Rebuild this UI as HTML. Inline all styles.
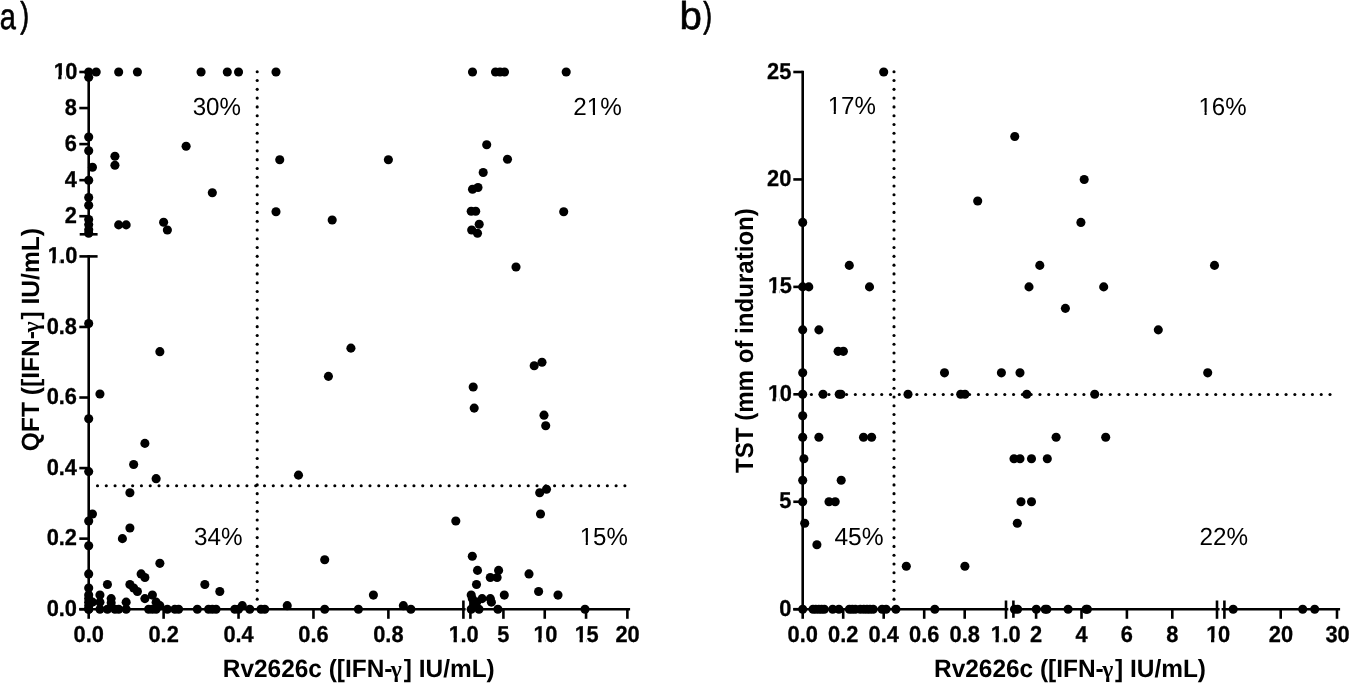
<!DOCTYPE html>
<html><head><meta charset="utf-8"><title>Figure</title>
<style>html,body{margin:0;padding:0;background:#fff;overflow:hidden}svg{display:block;text-rendering:geometricPrecision;font-kerning:none;will-change:transform}</style></head>
<body>
<svg width="1349" height="683" viewBox="0 0 1349 683">
<rect width="1349" height="683" fill="#fff"/>
<g stroke="#000" stroke-width="2.6" fill="none" stroke-linecap="butt">
<path d="M88.7 70.7V235.8"/>
<path d="M79.7 234.3H97.6"/>
<path d="M79.4 256.4H97.6"/>
<path d="M88.7 254.9V609.2"/>
<path d="M79.3 72.00H88.7"/>
<path d="M79.3 108.05H88.7"/>
<path d="M79.3 144.10H88.7"/>
<path d="M79.3 180.15H88.7"/>
<path d="M79.3 216.20H88.7"/>
<path d="M79.3 326.96H88.7"/>
<path d="M79.3 397.52H88.7"/>
<path d="M79.3 468.08H88.7"/>
<path d="M79.3 538.64H88.7"/>
<path d="M79.3 609.20H88.7"/>
<path d="M79.3 609.2H465.6"/>
<path d="M88.70 609.2V618.8"/>
<path d="M163.62 609.2V618.8"/>
<path d="M238.54 609.2V618.8"/>
<path d="M313.46 609.2V618.8"/>
<path d="M388.38 609.2V618.8"/>
<path d="M463.4 600.5V618.8"/>
<path d="M470.4 600.5V618.8"/>
<path d="M468.9 609.2H630.1"/>
<path d="M503.41 609.2V618.8"/>
<path d="M544.74 609.2V618.8"/>
<path d="M586.06 609.2V618.8"/>
<path d="M627.38 609.2V618.8"/>
<path d="M802.7 70.7V609.2"/>
<path d="M793.3 72.00H802.7"/>
<path d="M793.3 179.44H802.7"/>
<path d="M793.3 286.88H802.7"/>
<path d="M793.3 394.32H802.7"/>
<path d="M793.3 501.76H802.7"/>
<path d="M793.3 609.20H802.7"/>
<path d="M793.3 609.2H1008.3"/>
<path d="M802.70 609.2V618.8"/>
<path d="M843.20 609.2V618.8"/>
<path d="M883.70 609.2V618.8"/>
<path d="M924.20 609.2V618.8"/>
<path d="M964.70 609.2V618.8"/>
<path d="M1006 600.5V618.8"/>
<path d="M1013.4 600.5V617.8"/>
<path d="M1011.9 609.2H1219.6"/>
<path d="M1036.10 609.2V618.8"/>
<path d="M1081.50 609.2V618.8"/>
<path d="M1126.90 609.2V618.8"/>
<path d="M1172.30 609.2V618.8"/>
<path d="M1217.0 600.5V618.8"/>
<path d="M1224.4 600.5V618.8"/>
<path d="M1221.6 609.2H1340.1"/>
<path d="M1280.70 609.2V618.8"/>
<path d="M1337.00 609.2V618.8"/>
</g>
<g fill="#000">
<circle cx="257.2" cy="71.75" r="1.55"/>
<circle cx="257.2" cy="80.54" r="1.55"/>
<circle cx="257.2" cy="89.33" r="1.55"/>
<circle cx="257.2" cy="98.12" r="1.55"/>
<circle cx="257.2" cy="106.91" r="1.55"/>
<circle cx="257.2" cy="115.70" r="1.55"/>
<circle cx="257.2" cy="124.49" r="1.55"/>
<circle cx="257.2" cy="133.28" r="1.55"/>
<circle cx="257.2" cy="142.07" r="1.55"/>
<circle cx="257.2" cy="150.86" r="1.55"/>
<circle cx="257.2" cy="159.65" r="1.55"/>
<circle cx="257.2" cy="168.44" r="1.55"/>
<circle cx="257.2" cy="177.23" r="1.55"/>
<circle cx="257.2" cy="186.02" r="1.55"/>
<circle cx="257.2" cy="194.81" r="1.55"/>
<circle cx="257.2" cy="203.60" r="1.55"/>
<circle cx="257.2" cy="212.39" r="1.55"/>
<circle cx="257.2" cy="221.18" r="1.55"/>
<circle cx="257.2" cy="229.97" r="1.55"/>
<circle cx="257.2" cy="238.76" r="1.55"/>
<circle cx="257.2" cy="247.55" r="1.55"/>
<circle cx="257.2" cy="256.34" r="1.55"/>
<circle cx="257.2" cy="265.13" r="1.55"/>
<circle cx="257.2" cy="273.92" r="1.55"/>
<circle cx="257.2" cy="282.71" r="1.55"/>
<circle cx="257.2" cy="291.50" r="1.55"/>
<circle cx="257.2" cy="300.29" r="1.55"/>
<circle cx="257.2" cy="309.08" r="1.55"/>
<circle cx="257.2" cy="317.87" r="1.55"/>
<circle cx="257.2" cy="326.66" r="1.55"/>
<circle cx="257.2" cy="335.45" r="1.55"/>
<circle cx="257.2" cy="344.24" r="1.55"/>
<circle cx="257.2" cy="353.03" r="1.55"/>
<circle cx="257.2" cy="361.82" r="1.55"/>
<circle cx="257.2" cy="370.61" r="1.55"/>
<circle cx="257.2" cy="379.40" r="1.55"/>
<circle cx="257.2" cy="388.19" r="1.55"/>
<circle cx="257.2" cy="396.98" r="1.55"/>
<circle cx="257.2" cy="405.77" r="1.55"/>
<circle cx="257.2" cy="414.56" r="1.55"/>
<circle cx="257.2" cy="423.35" r="1.55"/>
<circle cx="257.2" cy="432.14" r="1.55"/>
<circle cx="257.2" cy="440.93" r="1.55"/>
<circle cx="257.2" cy="449.72" r="1.55"/>
<circle cx="257.2" cy="458.51" r="1.55"/>
<circle cx="257.2" cy="467.30" r="1.55"/>
<circle cx="257.2" cy="476.09" r="1.55"/>
<circle cx="257.2" cy="484.88" r="1.55"/>
<circle cx="257.2" cy="493.67" r="1.55"/>
<circle cx="257.2" cy="502.46" r="1.55"/>
<circle cx="257.2" cy="511.25" r="1.55"/>
<circle cx="257.2" cy="520.04" r="1.55"/>
<circle cx="257.2" cy="528.83" r="1.55"/>
<circle cx="257.2" cy="537.62" r="1.55"/>
<circle cx="257.2" cy="546.41" r="1.55"/>
<circle cx="257.2" cy="555.20" r="1.55"/>
<circle cx="257.2" cy="563.99" r="1.55"/>
<circle cx="257.2" cy="572.78" r="1.55"/>
<circle cx="257.2" cy="581.57" r="1.55"/>
<circle cx="257.2" cy="590.36" r="1.55"/>
<circle cx="257.2" cy="599.15" r="1.55"/>
<circle cx="97.50" cy="485.8" r="1.55"/>
<circle cx="106.29" cy="485.8" r="1.55"/>
<circle cx="115.08" cy="485.8" r="1.55"/>
<circle cx="123.87" cy="485.8" r="1.55"/>
<circle cx="132.66" cy="485.8" r="1.55"/>
<circle cx="141.45" cy="485.8" r="1.55"/>
<circle cx="150.24" cy="485.8" r="1.55"/>
<circle cx="159.03" cy="485.8" r="1.55"/>
<circle cx="167.82" cy="485.8" r="1.55"/>
<circle cx="176.61" cy="485.8" r="1.55"/>
<circle cx="185.40" cy="485.8" r="1.55"/>
<circle cx="194.19" cy="485.8" r="1.55"/>
<circle cx="202.98" cy="485.8" r="1.55"/>
<circle cx="211.77" cy="485.8" r="1.55"/>
<circle cx="220.56" cy="485.8" r="1.55"/>
<circle cx="229.35" cy="485.8" r="1.55"/>
<circle cx="238.14" cy="485.8" r="1.55"/>
<circle cx="246.93" cy="485.8" r="1.55"/>
<circle cx="255.72" cy="485.8" r="1.55"/>
<circle cx="264.51" cy="485.8" r="1.55"/>
<circle cx="273.30" cy="485.8" r="1.55"/>
<circle cx="282.09" cy="485.8" r="1.55"/>
<circle cx="290.88" cy="485.8" r="1.55"/>
<circle cx="299.67" cy="485.8" r="1.55"/>
<circle cx="308.46" cy="485.8" r="1.55"/>
<circle cx="317.25" cy="485.8" r="1.55"/>
<circle cx="326.04" cy="485.8" r="1.55"/>
<circle cx="334.83" cy="485.8" r="1.55"/>
<circle cx="343.62" cy="485.8" r="1.55"/>
<circle cx="352.41" cy="485.8" r="1.55"/>
<circle cx="361.20" cy="485.8" r="1.55"/>
<circle cx="369.99" cy="485.8" r="1.55"/>
<circle cx="378.78" cy="485.8" r="1.55"/>
<circle cx="387.57" cy="485.8" r="1.55"/>
<circle cx="396.36" cy="485.8" r="1.55"/>
<circle cx="405.15" cy="485.8" r="1.55"/>
<circle cx="413.94" cy="485.8" r="1.55"/>
<circle cx="422.73" cy="485.8" r="1.55"/>
<circle cx="431.52" cy="485.8" r="1.55"/>
<circle cx="440.31" cy="485.8" r="1.55"/>
<circle cx="449.10" cy="485.8" r="1.55"/>
<circle cx="457.89" cy="485.8" r="1.55"/>
<circle cx="466.68" cy="485.8" r="1.55"/>
<circle cx="475.47" cy="485.8" r="1.55"/>
<circle cx="484.26" cy="485.8" r="1.55"/>
<circle cx="493.05" cy="485.8" r="1.55"/>
<circle cx="501.84" cy="485.8" r="1.55"/>
<circle cx="510.63" cy="485.8" r="1.55"/>
<circle cx="519.42" cy="485.8" r="1.55"/>
<circle cx="528.21" cy="485.8" r="1.55"/>
<circle cx="537.00" cy="485.8" r="1.55"/>
<circle cx="545.79" cy="485.8" r="1.55"/>
<circle cx="554.58" cy="485.8" r="1.55"/>
<circle cx="563.37" cy="485.8" r="1.55"/>
<circle cx="572.16" cy="485.8" r="1.55"/>
<circle cx="580.95" cy="485.8" r="1.55"/>
<circle cx="589.74" cy="485.8" r="1.55"/>
<circle cx="598.53" cy="485.8" r="1.55"/>
<circle cx="607.32" cy="485.8" r="1.55"/>
<circle cx="616.11" cy="485.8" r="1.55"/>
<circle cx="624.90" cy="485.8" r="1.55"/>
<circle cx="894.0" cy="71.75" r="1.55"/>
<circle cx="894.0" cy="80.54" r="1.55"/>
<circle cx="894.0" cy="89.33" r="1.55"/>
<circle cx="894.0" cy="98.12" r="1.55"/>
<circle cx="894.0" cy="106.91" r="1.55"/>
<circle cx="894.0" cy="115.70" r="1.55"/>
<circle cx="894.0" cy="124.49" r="1.55"/>
<circle cx="894.0" cy="133.28" r="1.55"/>
<circle cx="894.0" cy="142.07" r="1.55"/>
<circle cx="894.0" cy="150.86" r="1.55"/>
<circle cx="894.0" cy="159.65" r="1.55"/>
<circle cx="894.0" cy="168.44" r="1.55"/>
<circle cx="894.0" cy="177.23" r="1.55"/>
<circle cx="894.0" cy="186.02" r="1.55"/>
<circle cx="894.0" cy="194.81" r="1.55"/>
<circle cx="894.0" cy="203.60" r="1.55"/>
<circle cx="894.0" cy="212.39" r="1.55"/>
<circle cx="894.0" cy="221.18" r="1.55"/>
<circle cx="894.0" cy="229.97" r="1.55"/>
<circle cx="894.0" cy="238.76" r="1.55"/>
<circle cx="894.0" cy="247.55" r="1.55"/>
<circle cx="894.0" cy="256.34" r="1.55"/>
<circle cx="894.0" cy="265.13" r="1.55"/>
<circle cx="894.0" cy="273.92" r="1.55"/>
<circle cx="894.0" cy="282.71" r="1.55"/>
<circle cx="894.0" cy="291.50" r="1.55"/>
<circle cx="894.0" cy="300.29" r="1.55"/>
<circle cx="894.0" cy="309.08" r="1.55"/>
<circle cx="894.0" cy="317.87" r="1.55"/>
<circle cx="894.0" cy="326.66" r="1.55"/>
<circle cx="894.0" cy="335.45" r="1.55"/>
<circle cx="894.0" cy="344.24" r="1.55"/>
<circle cx="894.0" cy="353.03" r="1.55"/>
<circle cx="894.0" cy="361.82" r="1.55"/>
<circle cx="894.0" cy="370.61" r="1.55"/>
<circle cx="894.0" cy="379.40" r="1.55"/>
<circle cx="894.0" cy="388.19" r="1.55"/>
<circle cx="894.0" cy="396.98" r="1.55"/>
<circle cx="894.0" cy="405.77" r="1.55"/>
<circle cx="894.0" cy="414.56" r="1.55"/>
<circle cx="894.0" cy="423.35" r="1.55"/>
<circle cx="894.0" cy="432.14" r="1.55"/>
<circle cx="894.0" cy="440.93" r="1.55"/>
<circle cx="894.0" cy="449.72" r="1.55"/>
<circle cx="894.0" cy="458.51" r="1.55"/>
<circle cx="894.0" cy="467.30" r="1.55"/>
<circle cx="894.0" cy="476.09" r="1.55"/>
<circle cx="894.0" cy="484.88" r="1.55"/>
<circle cx="894.0" cy="493.67" r="1.55"/>
<circle cx="894.0" cy="502.46" r="1.55"/>
<circle cx="894.0" cy="511.25" r="1.55"/>
<circle cx="894.0" cy="520.04" r="1.55"/>
<circle cx="894.0" cy="528.83" r="1.55"/>
<circle cx="894.0" cy="537.62" r="1.55"/>
<circle cx="894.0" cy="546.41" r="1.55"/>
<circle cx="894.0" cy="555.20" r="1.55"/>
<circle cx="894.0" cy="563.99" r="1.55"/>
<circle cx="894.0" cy="572.78" r="1.55"/>
<circle cx="894.0" cy="581.57" r="1.55"/>
<circle cx="894.0" cy="590.36" r="1.55"/>
<circle cx="894.0" cy="599.15" r="1.55"/>
<circle cx="811.40" cy="394.5" r="1.55"/>
<circle cx="820.19" cy="394.5" r="1.55"/>
<circle cx="828.98" cy="394.5" r="1.55"/>
<circle cx="837.77" cy="394.5" r="1.55"/>
<circle cx="846.56" cy="394.5" r="1.55"/>
<circle cx="855.35" cy="394.5" r="1.55"/>
<circle cx="864.14" cy="394.5" r="1.55"/>
<circle cx="872.93" cy="394.5" r="1.55"/>
<circle cx="881.72" cy="394.5" r="1.55"/>
<circle cx="890.51" cy="394.5" r="1.55"/>
<circle cx="899.30" cy="394.5" r="1.55"/>
<circle cx="908.09" cy="394.5" r="1.55"/>
<circle cx="916.88" cy="394.5" r="1.55"/>
<circle cx="925.67" cy="394.5" r="1.55"/>
<circle cx="934.46" cy="394.5" r="1.55"/>
<circle cx="943.25" cy="394.5" r="1.55"/>
<circle cx="952.04" cy="394.5" r="1.55"/>
<circle cx="960.83" cy="394.5" r="1.55"/>
<circle cx="969.62" cy="394.5" r="1.55"/>
<circle cx="978.41" cy="394.5" r="1.55"/>
<circle cx="987.20" cy="394.5" r="1.55"/>
<circle cx="995.99" cy="394.5" r="1.55"/>
<circle cx="1004.78" cy="394.5" r="1.55"/>
<circle cx="1013.57" cy="394.5" r="1.55"/>
<circle cx="1022.36" cy="394.5" r="1.55"/>
<circle cx="1031.15" cy="394.5" r="1.55"/>
<circle cx="1039.94" cy="394.5" r="1.55"/>
<circle cx="1048.73" cy="394.5" r="1.55"/>
<circle cx="1057.52" cy="394.5" r="1.55"/>
<circle cx="1066.31" cy="394.5" r="1.55"/>
<circle cx="1075.10" cy="394.5" r="1.55"/>
<circle cx="1083.89" cy="394.5" r="1.55"/>
<circle cx="1092.68" cy="394.5" r="1.55"/>
<circle cx="1101.47" cy="394.5" r="1.55"/>
<circle cx="1110.26" cy="394.5" r="1.55"/>
<circle cx="1119.05" cy="394.5" r="1.55"/>
<circle cx="1127.84" cy="394.5" r="1.55"/>
<circle cx="1136.63" cy="394.5" r="1.55"/>
<circle cx="1145.42" cy="394.5" r="1.55"/>
<circle cx="1154.21" cy="394.5" r="1.55"/>
<circle cx="1163.00" cy="394.5" r="1.55"/>
<circle cx="1171.79" cy="394.5" r="1.55"/>
<circle cx="1180.58" cy="394.5" r="1.55"/>
<circle cx="1189.37" cy="394.5" r="1.55"/>
<circle cx="1198.16" cy="394.5" r="1.55"/>
<circle cx="1206.95" cy="394.5" r="1.55"/>
<circle cx="1215.74" cy="394.5" r="1.55"/>
<circle cx="1224.53" cy="394.5" r="1.55"/>
<circle cx="1233.32" cy="394.5" r="1.55"/>
<circle cx="1242.11" cy="394.5" r="1.55"/>
<circle cx="1250.90" cy="394.5" r="1.55"/>
<circle cx="1259.69" cy="394.5" r="1.55"/>
<circle cx="1268.48" cy="394.5" r="1.55"/>
<circle cx="1277.27" cy="394.5" r="1.55"/>
<circle cx="1286.06" cy="394.5" r="1.55"/>
<circle cx="1294.85" cy="394.5" r="1.55"/>
<circle cx="1303.64" cy="394.5" r="1.55"/>
<circle cx="1312.43" cy="394.5" r="1.55"/>
<circle cx="1321.22" cy="394.5" r="1.55"/>
<circle cx="1330.01" cy="394.5" r="1.55"/>
</g>
<g fill="#000">
<circle cx="88.70" cy="545.70" r="4.55"/>
<circle cx="88.70" cy="573.92" r="4.55"/>
<circle cx="88.70" cy="588.03" r="4.55"/>
<circle cx="88.70" cy="595.09" r="4.55"/>
<circle cx="88.70" cy="598.62" r="4.55"/>
<circle cx="88.70" cy="602.14" r="4.55"/>
<circle cx="88.70" cy="605.67" r="4.55"/>
<circle cx="88.70" cy="609.20" r="4.55"/>
<circle cx="92.45" cy="602.14" r="4.55"/>
<circle cx="107.43" cy="584.50" r="4.55"/>
<circle cx="99.94" cy="595.09" r="4.55"/>
<circle cx="99.94" cy="602.14" r="4.55"/>
<circle cx="111.18" cy="598.62" r="4.55"/>
<circle cx="111.18" cy="602.85" r="4.55"/>
<circle cx="126.16" cy="602.14" r="4.55"/>
<circle cx="129.91" cy="584.50" r="4.55"/>
<circle cx="133.65" cy="588.03" r="4.55"/>
<circle cx="137.40" cy="591.56" r="4.55"/>
<circle cx="141.14" cy="573.92" r="4.55"/>
<circle cx="144.89" cy="577.45" r="4.55"/>
<circle cx="159.87" cy="563.34" r="4.55"/>
<circle cx="144.89" cy="598.62" r="4.55"/>
<circle cx="152.38" cy="595.09" r="4.55"/>
<circle cx="156.13" cy="602.14" r="4.55"/>
<circle cx="159.87" cy="605.67" r="4.55"/>
<circle cx="204.83" cy="584.50" r="4.55"/>
<circle cx="122.41" cy="538.64" r="4.55"/>
<circle cx="129.91" cy="528.06" r="4.55"/>
<circle cx="219.81" cy="591.56" r="4.55"/>
<circle cx="242.29" cy="605.67" r="4.55"/>
<circle cx="287.24" cy="605.67" r="4.55"/>
<circle cx="324.70" cy="559.81" r="4.55"/>
<circle cx="92.45" cy="513.94" r="4.55"/>
<circle cx="88.70" cy="521.00" r="4.55"/>
<circle cx="358.41" cy="609.20" r="4.55"/>
<circle cx="410.86" cy="609.20" r="4.55"/>
<circle cx="373.40" cy="595.09" r="4.55"/>
<circle cx="403.36" cy="605.67" r="4.55"/>
<circle cx="455.81" cy="521.00" r="4.55"/>
<circle cx="159.87" cy="351.66" r="4.55"/>
<circle cx="328.44" cy="376.35" r="4.55"/>
<circle cx="99.94" cy="393.99" r="4.55"/>
<circle cx="88.70" cy="418.69" r="4.55"/>
<circle cx="144.89" cy="443.38" r="4.55"/>
<circle cx="133.65" cy="464.55" r="4.55"/>
<circle cx="88.70" cy="471.61" r="4.55"/>
<circle cx="156.13" cy="478.66" r="4.55"/>
<circle cx="298.48" cy="475.14" r="4.55"/>
<circle cx="129.91" cy="492.78" r="4.55"/>
<circle cx="88.70" cy="323.43" r="4.55"/>
<circle cx="350.92" cy="348.13" r="4.55"/>
<circle cx="88.70" cy="609.20" r="4.55"/>
<circle cx="99.94" cy="609.20" r="4.55"/>
<circle cx="107.43" cy="609.20" r="4.55"/>
<circle cx="114.92" cy="609.20" r="4.55"/>
<circle cx="118.67" cy="609.20" r="4.55"/>
<circle cx="126.16" cy="609.20" r="4.55"/>
<circle cx="148.64" cy="609.20" r="4.55"/>
<circle cx="152.38" cy="609.20" r="4.55"/>
<circle cx="156.13" cy="609.20" r="4.55"/>
<circle cx="167.37" cy="609.20" r="4.55"/>
<circle cx="174.86" cy="609.20" r="4.55"/>
<circle cx="178.60" cy="609.20" r="4.55"/>
<circle cx="197.33" cy="609.20" r="4.55"/>
<circle cx="208.57" cy="609.20" r="4.55"/>
<circle cx="212.32" cy="609.20" r="4.55"/>
<circle cx="216.06" cy="609.20" r="4.55"/>
<circle cx="234.79" cy="609.20" r="4.55"/>
<circle cx="238.54" cy="609.20" r="4.55"/>
<circle cx="249.78" cy="609.20" r="4.55"/>
<circle cx="261.02" cy="609.20" r="4.55"/>
<circle cx="264.76" cy="609.20" r="4.55"/>
<circle cx="324.70" cy="609.20" r="4.55"/>
<circle cx="472.30" cy="556.28" r="4.55"/>
<circle cx="477.50" cy="570.39" r="4.55"/>
<circle cx="498.60" cy="570.39" r="4.55"/>
<circle cx="490.30" cy="577.45" r="4.55"/>
<circle cx="497.10" cy="577.45" r="4.55"/>
<circle cx="529.00" cy="573.92" r="4.55"/>
<circle cx="476.50" cy="584.50" r="4.55"/>
<circle cx="471.20" cy="595.09" r="4.55"/>
<circle cx="504.30" cy="595.09" r="4.55"/>
<circle cx="538.60" cy="591.56" r="4.55"/>
<circle cx="558.00" cy="595.09" r="4.55"/>
<circle cx="482.10" cy="598.62" r="4.55"/>
<circle cx="490.30" cy="598.62" r="4.55"/>
<circle cx="491.40" cy="602.14" r="4.55"/>
<circle cx="472.30" cy="598.62" r="4.55"/>
<circle cx="476.70" cy="602.14" r="4.55"/>
<circle cx="474.50" cy="605.67" r="4.55"/>
<circle cx="471.20" cy="609.20" r="4.55"/>
<circle cx="479.00" cy="609.20" r="4.55"/>
<circle cx="497.90" cy="609.20" r="4.55"/>
<circle cx="585.00" cy="609.20" r="4.55"/>
<circle cx="473.20" cy="386.94" r="4.55"/>
<circle cx="474.20" cy="408.10" r="4.55"/>
<circle cx="534.20" cy="365.77" r="4.55"/>
<circle cx="542.00" cy="362.24" r="4.55"/>
<circle cx="544.00" cy="415.16" r="4.55"/>
<circle cx="545.70" cy="425.74" r="4.55"/>
<circle cx="546.50" cy="489.25" r="4.55"/>
<circle cx="539.70" cy="492.78" r="4.55"/>
<circle cx="540.50" cy="513.94" r="4.55"/>
<circle cx="516.00" cy="266.98" r="4.55"/>
<circle cx="88.70" cy="72.00" r="4.55"/>
<circle cx="96.19" cy="72.00" r="4.55"/>
<circle cx="118.67" cy="72.00" r="4.55"/>
<circle cx="137.40" cy="72.00" r="4.55"/>
<circle cx="201.08" cy="72.00" r="4.55"/>
<circle cx="227.30" cy="72.00" r="4.55"/>
<circle cx="238.54" cy="72.00" r="4.55"/>
<circle cx="276.00" cy="72.00" r="4.55"/>
<circle cx="472.50" cy="72.00" r="4.55"/>
<circle cx="495.50" cy="72.00" r="4.55"/>
<circle cx="500.00" cy="72.00" r="4.55"/>
<circle cx="504.50" cy="72.00" r="4.55"/>
<circle cx="566.20" cy="72.00" r="4.55"/>
<circle cx="88.70" cy="77.35" r="4.55"/>
<circle cx="88.70" cy="137.00" r="4.55"/>
<circle cx="88.70" cy="150.80" r="4.55"/>
<circle cx="114.92" cy="156.20" r="4.55"/>
<circle cx="114.92" cy="165.20" r="4.55"/>
<circle cx="92.45" cy="167.20" r="4.55"/>
<circle cx="186.10" cy="146.20" r="4.55"/>
<circle cx="279.75" cy="159.70" r="4.55"/>
<circle cx="88.70" cy="180.20" r="4.55"/>
<circle cx="88.70" cy="197.50" r="4.55"/>
<circle cx="88.70" cy="205.30" r="4.55"/>
<circle cx="88.70" cy="219.50" r="4.55"/>
<circle cx="88.70" cy="224.60" r="4.55"/>
<circle cx="88.70" cy="229.70" r="4.55"/>
<circle cx="88.70" cy="233.30" r="4.55"/>
<circle cx="118.67" cy="224.90" r="4.55"/>
<circle cx="126.16" cy="224.90" r="4.55"/>
<circle cx="163.62" cy="222.20" r="4.55"/>
<circle cx="167.37" cy="230.00" r="4.55"/>
<circle cx="212.32" cy="192.70" r="4.55"/>
<circle cx="276.00" cy="211.70" r="4.55"/>
<circle cx="332.19" cy="220.00" r="4.55"/>
<circle cx="486.70" cy="144.70" r="4.55"/>
<circle cx="388.38" cy="159.70" r="4.55"/>
<circle cx="507.50" cy="159.20" r="4.55"/>
<circle cx="483.20" cy="172.50" r="4.55"/>
<circle cx="472.50" cy="189.20" r="4.55"/>
<circle cx="478.00" cy="187.50" r="4.55"/>
<circle cx="471.20" cy="211.20" r="4.55"/>
<circle cx="475.70" cy="211.20" r="4.55"/>
<circle cx="563.70" cy="211.70" r="4.55"/>
<circle cx="479.20" cy="224.20" r="4.55"/>
<circle cx="471.70" cy="230.00" r="4.55"/>
<circle cx="477.50" cy="233.20" r="4.55"/>
<circle cx="883.70" cy="72.00" r="4.55"/>
<circle cx="1014.75" cy="136.46" r="4.55"/>
<circle cx="1084.20" cy="179.44" r="4.55"/>
<circle cx="977.70" cy="200.93" r="4.55"/>
<circle cx="802.70" cy="222.42" r="4.55"/>
<circle cx="1080.90" cy="222.42" r="4.55"/>
<circle cx="849.30" cy="265.39" r="4.55"/>
<circle cx="1039.80" cy="265.39" r="4.55"/>
<circle cx="1214.50" cy="265.39" r="4.55"/>
<circle cx="802.70" cy="286.88" r="4.55"/>
<circle cx="808.80" cy="286.88" r="4.55"/>
<circle cx="869.50" cy="286.88" r="4.55"/>
<circle cx="1029.00" cy="286.88" r="4.55"/>
<circle cx="1103.70" cy="286.88" r="4.55"/>
<circle cx="1065.40" cy="308.37" r="4.55"/>
<circle cx="802.70" cy="329.86" r="4.55"/>
<circle cx="818.90" cy="329.86" r="4.55"/>
<circle cx="1158.30" cy="329.86" r="4.55"/>
<circle cx="838.10" cy="351.34" r="4.55"/>
<circle cx="843.40" cy="351.34" r="4.55"/>
<circle cx="802.70" cy="372.83" r="4.55"/>
<circle cx="944.50" cy="372.83" r="4.55"/>
<circle cx="1001.40" cy="372.83" r="4.55"/>
<circle cx="1020.00" cy="372.83" r="4.55"/>
<circle cx="1207.70" cy="372.83" r="4.55"/>
<circle cx="802.70" cy="394.32" r="4.55"/>
<circle cx="823.00" cy="394.32" r="4.55"/>
<circle cx="839.20" cy="394.32" r="4.55"/>
<circle cx="841.00" cy="394.32" r="4.55"/>
<circle cx="908.00" cy="394.32" r="4.55"/>
<circle cx="960.70" cy="394.32" r="4.55"/>
<circle cx="965.00" cy="394.32" r="4.55"/>
<circle cx="1026.80" cy="394.32" r="4.55"/>
<circle cx="1094.70" cy="394.32" r="4.55"/>
<circle cx="802.70" cy="415.81" r="4.55"/>
<circle cx="802.70" cy="437.30" r="4.55"/>
<circle cx="818.90" cy="437.30" r="4.55"/>
<circle cx="863.50" cy="437.30" r="4.55"/>
<circle cx="871.60" cy="437.30" r="4.55"/>
<circle cx="1056.10" cy="437.30" r="4.55"/>
<circle cx="1105.70" cy="437.30" r="4.55"/>
<circle cx="803.90" cy="458.78" r="4.55"/>
<circle cx="1014.00" cy="458.78" r="4.55"/>
<circle cx="1020.00" cy="458.78" r="4.55"/>
<circle cx="1031.50" cy="458.78" r="4.55"/>
<circle cx="1047.30" cy="458.78" r="4.55"/>
<circle cx="802.70" cy="480.27" r="4.55"/>
<circle cx="841.20" cy="480.27" r="4.55"/>
<circle cx="802.70" cy="501.76" r="4.55"/>
<circle cx="829.00" cy="501.76" r="4.55"/>
<circle cx="835.20" cy="501.76" r="4.55"/>
<circle cx="1021.00" cy="501.76" r="4.55"/>
<circle cx="1031.50" cy="501.76" r="4.55"/>
<circle cx="804.70" cy="523.25" r="4.55"/>
<circle cx="1017.30" cy="523.25" r="4.55"/>
<circle cx="816.90" cy="544.74" r="4.55"/>
<circle cx="906.30" cy="566.22" r="4.55"/>
<circle cx="964.90" cy="566.22" r="4.55"/>
<circle cx="802.70" cy="609.20" r="4.55"/>
<circle cx="813.00" cy="609.20" r="4.55"/>
<circle cx="815.80" cy="609.20" r="4.55"/>
<circle cx="818.90" cy="609.20" r="4.55"/>
<circle cx="821.60" cy="609.20" r="4.55"/>
<circle cx="824.30" cy="609.20" r="4.55"/>
<circle cx="832.70" cy="609.20" r="4.55"/>
<circle cx="838.90" cy="609.20" r="4.55"/>
<circle cx="849.40" cy="609.20" r="4.55"/>
<circle cx="852.30" cy="609.20" r="4.55"/>
<circle cx="855.40" cy="609.20" r="4.55"/>
<circle cx="860.30" cy="609.20" r="4.55"/>
<circle cx="863.80" cy="609.20" r="4.55"/>
<circle cx="867.00" cy="609.20" r="4.55"/>
<circle cx="870.00" cy="609.20" r="4.55"/>
<circle cx="873.20" cy="609.20" r="4.55"/>
<circle cx="882.10" cy="609.20" r="4.55"/>
<circle cx="886.10" cy="609.20" r="4.55"/>
<circle cx="895.90" cy="609.20" r="4.55"/>
<circle cx="934.80" cy="609.20" r="4.55"/>
<circle cx="1014.50" cy="609.20" r="4.55"/>
<circle cx="1017.60" cy="609.20" r="4.55"/>
<circle cx="1036.30" cy="609.20" r="4.55"/>
<circle cx="1045.20" cy="609.20" r="4.55"/>
<circle cx="1046.90" cy="609.20" r="4.55"/>
<circle cx="1068.10" cy="609.20" r="4.55"/>
<circle cx="1086.10" cy="609.20" r="4.55"/>
<circle cx="1087.40" cy="609.20" r="4.55"/>
<circle cx="1233.20" cy="609.20" r="4.55"/>
<circle cx="1302.70" cy="609.20" r="4.55"/>
<circle cx="1314.70" cy="609.20" r="4.55"/>
</g>
<text transform="translate(77.00 78.60) scale(0.9478 1)" text-anchor="end" stroke="#000" stroke-width="0.3" stroke-linejoin="round" style="font-family:'Liberation Sans',sans-serif;font-weight:bold;font-size:23.00px"><tspan dx="0.5">1</tspan><tspan dx="-0.5">0</tspan></text>
<text transform="translate(77.00 114.65) scale(0.9478 1)" text-anchor="end" stroke="#000" stroke-width="0.3" stroke-linejoin="round" style="font-family:'Liberation Sans',sans-serif;font-weight:bold;font-size:23.00px">8</text>
<text transform="translate(77.00 150.70) scale(0.9478 1)" text-anchor="end" stroke="#000" stroke-width="0.3" stroke-linejoin="round" style="font-family:'Liberation Sans',sans-serif;font-weight:bold;font-size:23.00px">6</text>
<text transform="translate(77.00 186.75) scale(0.9478 1)" text-anchor="end" stroke="#000" stroke-width="0.3" stroke-linejoin="round" style="font-family:'Liberation Sans',sans-serif;font-weight:bold;font-size:23.00px">4</text>
<text transform="translate(77.00 222.80) scale(0.9478 1)" text-anchor="end" stroke="#000" stroke-width="0.3" stroke-linejoin="round" style="font-family:'Liberation Sans',sans-serif;font-weight:bold;font-size:23.00px">2</text>
<text transform="translate(77.00 263.00) scale(0.9478 1)" text-anchor="end" stroke="#000" stroke-width="0.3" stroke-linejoin="round" style="font-family:'Liberation Sans',sans-serif;font-weight:bold;font-size:23.00px"><tspan dx="0.5">1</tspan><tspan dx="-0.5">.0</tspan></text>
<text transform="translate(77.00 333.56) scale(0.9478 1)" text-anchor="end" stroke="#000" stroke-width="0.3" stroke-linejoin="round" style="font-family:'Liberation Sans',sans-serif;font-weight:bold;font-size:23.00px">0.8</text>
<text transform="translate(77.00 404.12) scale(0.9478 1)" text-anchor="end" stroke="#000" stroke-width="0.3" stroke-linejoin="round" style="font-family:'Liberation Sans',sans-serif;font-weight:bold;font-size:23.00px">0.6</text>
<text transform="translate(77.00 474.68) scale(0.9478 1)" text-anchor="end" stroke="#000" stroke-width="0.3" stroke-linejoin="round" style="font-family:'Liberation Sans',sans-serif;font-weight:bold;font-size:23.00px">0.4</text>
<text transform="translate(77.00 545.24) scale(0.9478 1)" text-anchor="end" stroke="#000" stroke-width="0.3" stroke-linejoin="round" style="font-family:'Liberation Sans',sans-serif;font-weight:bold;font-size:23.00px">0.2</text>
<text transform="translate(77.00 615.80) scale(0.9478 1)" text-anchor="end" stroke="#000" stroke-width="0.3" stroke-linejoin="round" style="font-family:'Liberation Sans',sans-serif;font-weight:bold;font-size:23.00px">0.0</text>
<text transform="translate(88.70 641.70) scale(0.9478 1)" text-anchor="middle" stroke="#000" stroke-width="0.3" stroke-linejoin="round" style="font-family:'Liberation Sans',sans-serif;font-weight:bold;font-size:23.00px">0.0</text>
<text transform="translate(163.62 641.70) scale(0.9478 1)" text-anchor="middle" stroke="#000" stroke-width="0.3" stroke-linejoin="round" style="font-family:'Liberation Sans',sans-serif;font-weight:bold;font-size:23.00px">0.2</text>
<text transform="translate(238.54 641.70) scale(0.9478 1)" text-anchor="middle" stroke="#000" stroke-width="0.3" stroke-linejoin="round" style="font-family:'Liberation Sans',sans-serif;font-weight:bold;font-size:23.00px">0.4</text>
<text transform="translate(313.46 641.70) scale(0.9478 1)" text-anchor="middle" stroke="#000" stroke-width="0.3" stroke-linejoin="round" style="font-family:'Liberation Sans',sans-serif;font-weight:bold;font-size:23.00px">0.6</text>
<text transform="translate(388.38 641.70) scale(0.9478 1)" text-anchor="middle" stroke="#000" stroke-width="0.3" stroke-linejoin="round" style="font-family:'Liberation Sans',sans-serif;font-weight:bold;font-size:23.00px">0.8</text>
<text transform="translate(463.30 641.70) scale(0.9478 1)" text-anchor="middle" stroke="#000" stroke-width="0.3" stroke-linejoin="round" style="font-family:'Liberation Sans',sans-serif;font-weight:bold;font-size:23.00px"><tspan dx="0.5">1</tspan><tspan dx="-0.5">.0</tspan></text>
<text transform="translate(503.41 641.70) scale(0.9478 1)" text-anchor="middle" stroke="#000" stroke-width="0.3" stroke-linejoin="round" style="font-family:'Liberation Sans',sans-serif;font-weight:bold;font-size:23.00px">5</text>
<text transform="translate(544.94 641.70) scale(0.9478 1)" text-anchor="middle" stroke="#000" stroke-width="0.3" stroke-linejoin="round" style="font-family:'Liberation Sans',sans-serif;font-weight:bold;font-size:23.00px"><tspan dx="0.5">1</tspan><tspan dx="-0.5">0</tspan></text>
<text transform="translate(586.26 641.70) scale(0.9478 1)" text-anchor="middle" stroke="#000" stroke-width="0.3" stroke-linejoin="round" style="font-family:'Liberation Sans',sans-serif;font-weight:bold;font-size:23.00px"><tspan dx="0.5">1</tspan><tspan dx="-0.5">5</tspan></text>
<text transform="translate(627.59 641.70) scale(0.9478 1)" text-anchor="middle" stroke="#000" stroke-width="0.3" stroke-linejoin="round" style="font-family:'Liberation Sans',sans-serif;font-weight:bold;font-size:23.00px">20</text>
<text transform="translate(791.30 78.60) scale(0.9478 1)" text-anchor="end" stroke="#000" stroke-width="0.3" stroke-linejoin="round" style="font-family:'Liberation Sans',sans-serif;font-weight:bold;font-size:23.00px">25</text>
<text transform="translate(791.30 186.04) scale(0.9478 1)" text-anchor="end" stroke="#000" stroke-width="0.3" stroke-linejoin="round" style="font-family:'Liberation Sans',sans-serif;font-weight:bold;font-size:23.00px">20</text>
<text transform="translate(791.30 293.48) scale(0.9478 1)" text-anchor="end" stroke="#000" stroke-width="0.3" stroke-linejoin="round" style="font-family:'Liberation Sans',sans-serif;font-weight:bold;font-size:23.00px"><tspan dx="0.5">1</tspan><tspan dx="-0.5">5</tspan></text>
<text transform="translate(791.30 400.92) scale(0.9478 1)" text-anchor="end" stroke="#000" stroke-width="0.3" stroke-linejoin="round" style="font-family:'Liberation Sans',sans-serif;font-weight:bold;font-size:23.00px"><tspan dx="0.5">1</tspan><tspan dx="-0.5">0</tspan></text>
<text transform="translate(791.30 508.36) scale(0.9478 1)" text-anchor="end" stroke="#000" stroke-width="0.3" stroke-linejoin="round" style="font-family:'Liberation Sans',sans-serif;font-weight:bold;font-size:23.00px">5</text>
<text transform="translate(791.30 615.80) scale(0.9478 1)" text-anchor="end" stroke="#000" stroke-width="0.3" stroke-linejoin="round" style="font-family:'Liberation Sans',sans-serif;font-weight:bold;font-size:23.00px">0</text>
<text transform="translate(802.70 641.70) scale(0.9478 1)" text-anchor="middle" stroke="#000" stroke-width="0.3" stroke-linejoin="round" style="font-family:'Liberation Sans',sans-serif;font-weight:bold;font-size:23.00px">0.0</text>
<text transform="translate(843.20 641.70) scale(0.9478 1)" text-anchor="middle" stroke="#000" stroke-width="0.3" stroke-linejoin="round" style="font-family:'Liberation Sans',sans-serif;font-weight:bold;font-size:23.00px">0.2</text>
<text transform="translate(883.70 641.70) scale(0.9478 1)" text-anchor="middle" stroke="#000" stroke-width="0.3" stroke-linejoin="round" style="font-family:'Liberation Sans',sans-serif;font-weight:bold;font-size:23.00px">0.4</text>
<text transform="translate(924.20 641.70) scale(0.9478 1)" text-anchor="middle" stroke="#000" stroke-width="0.3" stroke-linejoin="round" style="font-family:'Liberation Sans',sans-serif;font-weight:bold;font-size:23.00px">0.6</text>
<text transform="translate(964.70 641.70) scale(0.9478 1)" text-anchor="middle" stroke="#000" stroke-width="0.3" stroke-linejoin="round" style="font-family:'Liberation Sans',sans-serif;font-weight:bold;font-size:23.00px">0.8</text>
<text transform="translate(1005.20 641.70) scale(0.9478 1)" text-anchor="middle" stroke="#000" stroke-width="0.3" stroke-linejoin="round" style="font-family:'Liberation Sans',sans-serif;font-weight:bold;font-size:23.00px"><tspan dx="0.5">1</tspan><tspan dx="-0.5">.0</tspan></text>
<text transform="translate(1036.10 641.70) scale(0.9478 1)" text-anchor="middle" stroke="#000" stroke-width="0.3" stroke-linejoin="round" style="font-family:'Liberation Sans',sans-serif;font-weight:bold;font-size:23.00px">2</text>
<text transform="translate(1081.50 641.70) scale(0.9478 1)" text-anchor="middle" stroke="#000" stroke-width="0.3" stroke-linejoin="round" style="font-family:'Liberation Sans',sans-serif;font-weight:bold;font-size:23.00px">4</text>
<text transform="translate(1126.90 641.70) scale(0.9478 1)" text-anchor="middle" stroke="#000" stroke-width="0.3" stroke-linejoin="round" style="font-family:'Liberation Sans',sans-serif;font-weight:bold;font-size:23.00px">6</text>
<text transform="translate(1172.30 641.70) scale(0.9478 1)" text-anchor="middle" stroke="#000" stroke-width="0.3" stroke-linejoin="round" style="font-family:'Liberation Sans',sans-serif;font-weight:bold;font-size:23.00px">8</text>
<text transform="translate(1217.70 641.70) scale(0.9478 1)" text-anchor="middle" stroke="#000" stroke-width="0.3" stroke-linejoin="round" style="font-family:'Liberation Sans',sans-serif;font-weight:bold;font-size:23.00px"><tspan dx="0.5">1</tspan><tspan dx="-0.5">0</tspan></text>
<text transform="translate(1280.90 641.70) scale(0.9478 1)" text-anchor="middle" stroke="#000" stroke-width="0.3" stroke-linejoin="round" style="font-family:'Liberation Sans',sans-serif;font-weight:bold;font-size:23.00px">20</text>
<text transform="translate(1337.60 641.70) scale(0.9478 1)" text-anchor="middle" stroke="#000" stroke-width="0.3" stroke-linejoin="round" style="font-family:'Liberation Sans',sans-serif;font-weight:bold;font-size:23.00px">30</text>
<text transform="translate(222.8 676.7) scale(0.9768 1)" style="font-family:'Liberation Sans',sans-serif;font-weight:bold;font-size:25px">Rv2626c ([IFN-<tspan dx="-1.6" style="font-family:'Liberation Serif',serif;font-weight:bold;font-size:24px">γ</tspan><tspan dx="2.0">] IU/mL)</tspan></text>
<text transform="translate(934.0 676.7) scale(0.9772 1)" style="font-family:'Liberation Sans',sans-serif;font-weight:bold;font-size:25px">Rv2626c ([IFN-<tspan dx="-1.6" style="font-family:'Liberation Serif',serif;font-weight:bold;font-size:24px">γ</tspan><tspan dx="2.0">] IU/mL)</tspan></text>
<text transform="translate(38.7 451.3) rotate(-90) scale(0.9844 1)" style="font-family:'Liberation Sans',sans-serif;font-weight:bold;font-size:25px">QFT ([IFN-<tspan dx="-1.6" style="font-family:'Liberation Serif',serif;font-weight:bold;font-size:24px">γ</tspan><tspan dx="2.0">] IU/mL)</tspan></text>
<text transform="translate(753.1 473.0) rotate(-90) scale(0.9632 1)" style="font-family:'Liberation Sans',sans-serif;font-weight:bold;font-size:25px">TST (mm of induration)</text>
<text transform="translate(192.68 115.10) scale(0.9726 1)" style="font-family:'Liberation Sans',sans-serif;font-weight:normal;font-size:24.80px">30%</text>
<text transform="translate(573.28 115.10) scale(0.9788 1)" style="font-family:'Liberation Sans',sans-serif;font-weight:normal;font-size:24.80px">21%</text>
<text transform="translate(194.08 545.10) scale(0.9789 1)" style="font-family:'Liberation Sans',sans-serif;font-weight:normal;font-size:24.80px">34%</text>
<text transform="translate(579.69 544.90) scale(0.9684 1)" style="font-family:'Liberation Sans',sans-serif;font-weight:normal;font-size:24.80px">15%</text>
<text transform="translate(827.68 114.20) scale(0.9705 1)" style="font-family:'Liberation Sans',sans-serif;font-weight:normal;font-size:24.80px">17%</text>
<text transform="translate(1198.48 115.10) scale(0.9705 1)" style="font-family:'Liberation Sans',sans-serif;font-weight:normal;font-size:24.80px">16%</text>
<text transform="translate(834.44 545.10) scale(0.9920 1)" style="font-family:'Liberation Sans',sans-serif;font-weight:normal;font-size:24.80px">45%</text>
<text transform="translate(1199.48 544.90) scale(0.9788 1)" style="font-family:'Liberation Sans',sans-serif;font-weight:normal;font-size:24.80px">22%</text>
<text transform="translate(-0.23 29.30) scale(0.7925 1)" style="font-family:'Liberation Sans',sans-serif;font-weight:normal;font-size:36.60px" stroke="#000" stroke-width="0.6" stroke-linejoin="round" vector-effect="non-scaling-stroke">a</text>
<text transform="translate(20.25 27.40) scale(0.7375 1)" style="font-family:'Liberation Sans',sans-serif;font-weight:normal;font-size:35.80px" stroke="#000" stroke-width="0.8" stroke-linejoin="round" vector-effect="non-scaling-stroke">)</text>
<text transform="translate(679.41 29.30) scale(1.0373 1)" style="font-family:'Liberation Sans',sans-serif;font-weight:normal;font-size:38.80px" stroke="#000" stroke-width="0.6" stroke-linejoin="round" vector-effect="non-scaling-stroke">b</text>
<text transform="translate(703.25 27.40) scale(0.7375 1)" style="font-family:'Liberation Sans',sans-serif;font-weight:normal;font-size:35.80px" stroke="#000" stroke-width="0.8" stroke-linejoin="round" vector-effect="non-scaling-stroke">)</text>
<rect x="53.35" y="75.12" width="4.81" height="5.68" fill="#fff"/>
<rect x="61.45" y="75.12" width="3.85" height="5.68" fill="#fff"/>
<rect x="47.29" y="259.52" width="4.81" height="5.68" fill="#fff"/>
<rect x="55.40" y="259.52" width="3.85" height="5.68" fill="#fff"/>
<rect x="448.75" y="638.22" width="4.81" height="5.68" fill="#fff"/>
<rect x="456.85" y="638.22" width="3.85" height="5.68" fill="#fff"/>
<rect x="533.41" y="638.22" width="4.81" height="5.68" fill="#fff"/>
<rect x="541.51" y="638.22" width="3.85" height="5.68" fill="#fff"/>
<rect x="574.74" y="638.22" width="4.81" height="5.68" fill="#fff"/>
<rect x="582.84" y="638.22" width="3.85" height="5.68" fill="#fff"/>
<rect x="767.65" y="290.00" width="4.81" height="5.68" fill="#fff"/>
<rect x="775.75" y="290.00" width="3.85" height="5.68" fill="#fff"/>
<rect x="767.65" y="397.44" width="4.81" height="5.68" fill="#fff"/>
<rect x="775.75" y="397.44" width="3.85" height="5.68" fill="#fff"/>
<rect x="990.65" y="638.22" width="4.81" height="5.68" fill="#fff"/>
<rect x="998.75" y="638.22" width="3.85" height="5.68" fill="#fff"/>
<rect x="1206.18" y="638.22" width="4.81" height="5.68" fill="#fff"/>
<rect x="1214.28" y="638.22" width="3.85" height="5.68" fill="#fff"/>
<rect x="587.97" y="112.07" width="4.92" height="4.03" fill="#fff"/>
<rect x="595.03" y="112.07" width="4.67" height="4.03" fill="#fff"/>
<rect x="580.86" y="541.87" width="4.87" height="4.03" fill="#fff"/>
<rect x="587.85" y="541.87" width="4.62" height="4.03" fill="#fff"/>
<rect x="828.86" y="111.17" width="4.88" height="4.03" fill="#fff"/>
<rect x="835.86" y="111.17" width="4.63" height="4.03" fill="#fff"/>
<rect x="1199.66" y="112.07" width="4.88" height="4.03" fill="#fff"/>
<rect x="1206.66" y="112.07" width="4.63" height="4.03" fill="#fff"/>
</svg>
</body></html>
